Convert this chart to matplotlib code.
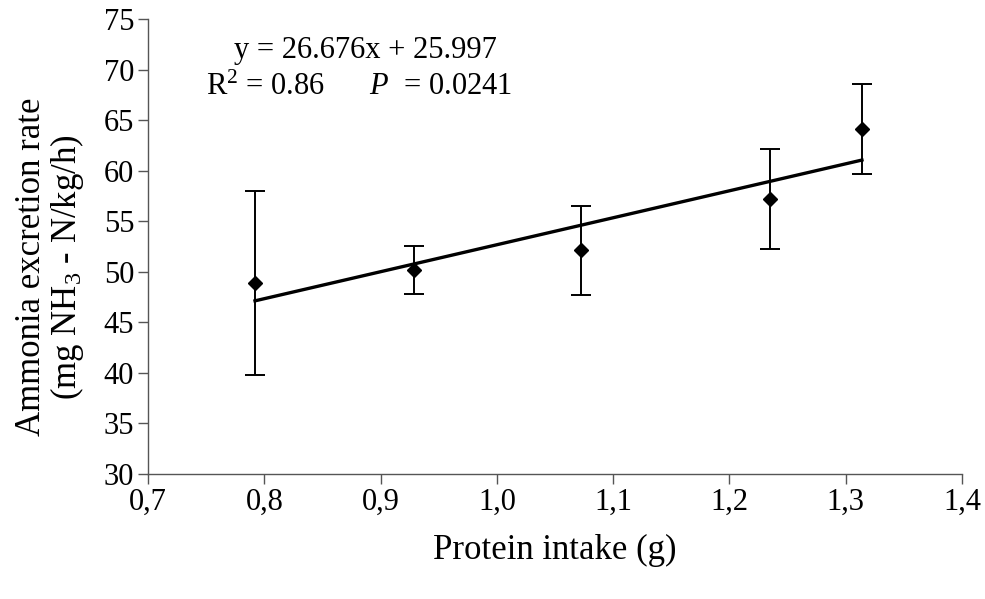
import numpy as np
import matplotlib.pyplot as plt

plt.rcParams['font.family'] = ['Liberation Serif', 'DejaVu Serif']
plt.rcParams['mathtext.fontset'] = 'custom'
plt.rcParams['mathtext.rm'] = 'Liberation Serif'
plt.rcParams['mathtext.it'] = 'Liberation Serif:italic'

# data
protein = [0.792, 0.929, 1.072, 1.235, 1.314]
ammonia = [48.9, 50.2, 52.15, 57.2, 64.1]
err = [9.1, 2.35, 4.4, 4.9, 4.45]
slope, intercept = 26.676, 25.997

xticks = [0.7, 0.8, 0.9, 1.0, 1.1, 1.2, 1.3, 1.4]
xticklabels = ['0,7', '0,8', '0,9', '1,0', '1,1', '1,2', '1,3', '1,4']
yticks = [30, 35, 40, 45, 50, 55, 60, 65, 70, 75]

fig = plt.figure(figsize=(9.85, 5.99), dpi=100)
ax = fig.add_axes([0.1503, 0.2087, 0.8263, 0.7596])

# regression line over the data range
xfit = np.array([min(protein), max(protein)])
ax.plot(xfit, slope * xfit + intercept, color='black', lw=2.4, zorder=2)

ax.errorbar(protein, ammonia, yerr=err, fmt='D', color='black', ms=7.5,
            ecolor='black', elinewidth=1.4, capsize=7, capthick=1.4, zorder=3)

ax.set_xlim(0.7, 1.4)
ax.set_ylim(30, 75)
ax.set_xticks(xticks)
ax.set_xticklabels(xticklabels)
ax.set_yticks(yticks)

for s in ['top', 'right']:
    ax.spines[s].set_visible(False)
for s in ['left', 'bottom']:
    ax.spines[s].set_color('#555555')
    ax.spines[s].set_linewidth(1.0)
ax.tick_params(direction='out', length=7, width=1.0, color='#555555',
               labelsize=22, pad=3)

ax.set_xlabel('Protein intake (g)', fontsize=25, labelpad=12)
ax.set_ylabel('Ammonia excretion rate\n(mg NH$_3$ - N/kg/h)', fontsize=25,
              linespacing=1.0)
ax.yaxis.set_label_coords(-0.076, 0.455)

ax.text(0.2666, 0.914, 'y = 26.676x + 25.997', transform=ax.transAxes,
        ha='center', va='baseline', fontsize=22)
ax.text(0.0706, 0.833, 'R$^2$ = 0.86      $P$  = 0.0241', transform=ax.transAxes,
        ha='left', va='baseline', fontsize=22)

fig.savefig('out.png', dpi=100)
